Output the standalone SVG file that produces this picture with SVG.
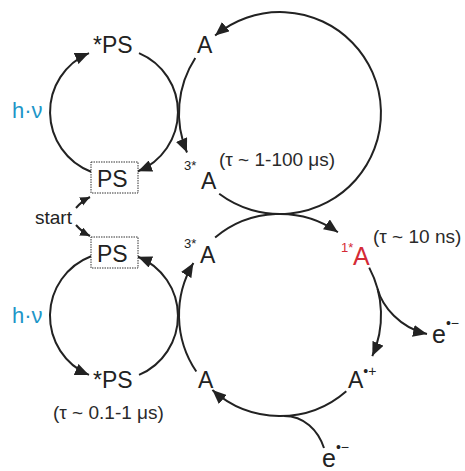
<svg xmlns="http://www.w3.org/2000/svg" width="465" height="471" viewBox="0 0 465 471">
<defs>
<style>
.c{fill:none;stroke:#222;stroke-width:2}
.t{font-family:"Liberation Sans",Arial,sans-serif;fill:#222}
.big{font-size:23px}
.sup{font-size:13px}
.tau{font-size:19px;fill:#2a2a2a}
.hv{font-size:22px;fill:#1e96c8}
.red{fill:#d42a36}
.box{fill:#fff;stroke:#333;stroke-width:1;stroke-dasharray:1.5 1}
</style>
<marker id="ah" markerUnits="userSpaceOnUse" markerWidth="16" markerHeight="12" refX="14" refY="6" orient="auto"><path d="M0,0 L14,6 L0,12 z" fill="#222"/></marker>
<marker id="ahs" markerUnits="userSpaceOnUse" markerWidth="12" markerHeight="10" refX="10" refY="4.5" orient="auto"><path d="M0,0 L10,4.5 L0,9 z" fill="#222"/></marker>
</defs>
<rect width="465" height="471" fill="#fff"/>
<g id="connectors">
<path class="c" marker-end="url(#ah)" d="M91 171.7 A64 64 0 0 1 89 53.1"/>
<path class="c" marker-end="url(#ah)" d="M139 53.1 A64 64 0 0 1 138 171.3"/>
<path class="c" marker-end="url(#ah)" d="M91.1 256.2 A64 64 0 0 0 89 374.9"/>
<path class="c" marker-end="url(#ah)" d="M139 374.9 A64 64 0 0 0 138 256.7"/>
<path class="c" marker-end="url(#ah)" d="M195.3 58 A101 101 0 0 0 187 152.5"/>
<path class="c" marker-end="url(#ah)" d="M219.2 193.7 A101 101 0 1 0 215.1 35.6"/>
<path class="c" marker-end="url(#ah)" d="M215.1 237.6 A101 101 0 0 1 337.9 232.3"/>
<path class="c" marker-end="url(#ah)" d="M369.2 267.6 A101 101 0 0 1 372.3 356.1"/>
<path class="c" marker-end="url(#ah)" d="M346.3 391.2 A101 101 0 0 1 212.4 390.1"/>
<path class="c" marker-end="url(#ah)" d="M196.3 371.5 A101 101 0 0 1 193.4 263"/>
<path class="c" marker-end="url(#ah)" d="M377.6 288.9 C382.3 306.3 400 328 427 334"/>
<path class="c" d="M324 448 C318 430 304 416 284 416"/>
<path class="c" stroke-width="1.7" marker-end="url(#ahs)" d="M76 208 Q82 201 90 197"/>
<path class="c" stroke-width="1.7" marker-end="url(#ahs)" d="M76 225 Q82 232 90 236"/>
</g>
<g id="ps-excited-top"><text class="t big" x="93" y="53">*PS</text></g>
<g id="a-top"><text class="t big" x="197" y="53">A</text></g>
<g id="hv-top"><text class="t hv" x="12" y="118">h·ν</text></g>
<g id="ps-top"><rect class="box" x="91" y="162" width="47" height="31"/><text class="t big" x="97" y="187">PS</text></g>
<g id="a-triplet-top"><text class="t sup" x="184" y="170">3*</text><text class="t big" x="201" y="189">A</text><text class="t tau" x="219" y="166">(τ ~ 1-100 μs)</text></g>
<g id="start"><text class="t" font-size="19" x="35" y="224">start</text></g>
<g id="ps-bottom"><rect class="box" x="91" y="237" width="47" height="31"/><text class="t big" x="97" y="262">PS</text></g>
<g id="a-triplet-bottom"><text class="t sup" x="184" y="248">3*</text><text class="t big" x="200" y="263">A</text></g>
<g id="a-singlet"><text class="t sup red" x="341" y="252">1*</text><text class="t red" font-size="25" x="353" y="265">A</text><text class="t tau" x="373" y="243">(τ ~ 10 ns)</text></g>
<g id="hv-bottom"><text class="t hv" x="12" y="323">h·ν</text></g>
<g id="e-right"><text class="t" font-size="25" x="432" y="343">e<tspan font-size="14" dy="-15">•−</tspan></text></g>
<g id="a-cation"><text class="t big" x="348" y="388">A<tspan font-size="14" dy="-12">•+</tspan></text></g>
<g id="ps-excited-bottom"><text class="t big" x="93" y="388">*PS</text><text class="t tau" x="53" y="419">(τ ~ 0.1-1 μs)</text></g>
<g id="a-bottom"><text class="t big" x="198" y="388">A</text></g>
<g id="e-bottom"><text class="t" font-size="25" x="322" y="467">e<tspan font-size="14" dy="-15">•−</tspan></text></g>
</svg>
